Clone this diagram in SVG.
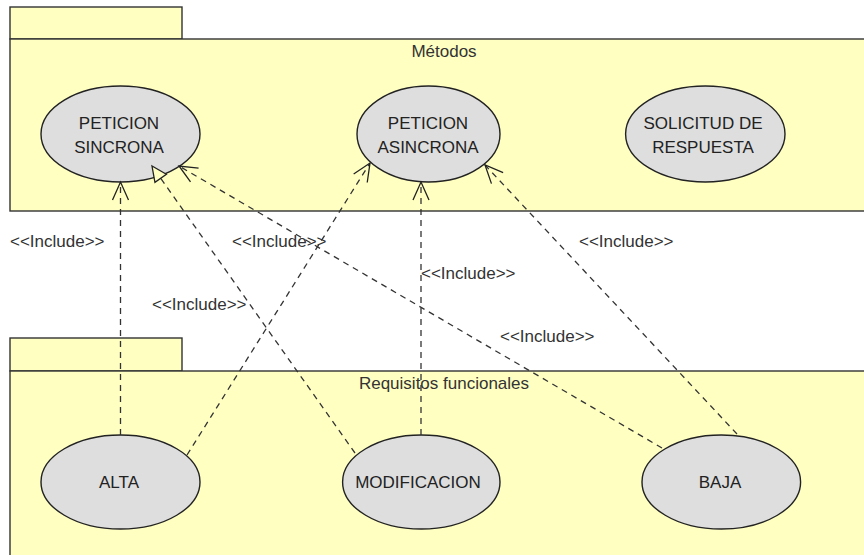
<svg xmlns="http://www.w3.org/2000/svg" width="864" height="555" viewBox="0 0 864 555">
<style>
.pkg{fill:#FFFFC2;stroke:#333;stroke-width:1.4}
.uc{fill:#DEDEDE;stroke:#222;stroke-width:1.4}
.t{font-family:"Liberation Sans",Arial,sans-serif;font-size:17px;fill:#222}
.lbl{font-family:"Liberation Sans",Arial,sans-serif;font-size:17px;fill:#333}
.pt{font-family:"Liberation Sans",Arial,sans-serif;font-size:17px;fill:#333;text-anchor:middle}
.c{fill:none;stroke:#333;stroke-width:1.3;stroke-dasharray:6 5}
</style>
<defs>
<marker id="open" markerUnits="userSpaceOnUse" orient="auto" overflow="visible" refX="0" refY="0" markerWidth="20" markerHeight="20">
<path d="M-18,-8 L0,0 L-18,8" fill="none" stroke="#222" stroke-width="1.3"/>
</marker>
<marker id="tri" markerUnits="userSpaceOnUse" orient="auto" overflow="visible" refX="0" refY="0" markerWidth="20" markerHeight="20">
<path d="M-15,-7 L0,0 L-15,7 Z" fill="#FFFFC2" stroke="#222" stroke-width="1.3"/>
</marker>
</defs>
<rect width="864" height="555" fill="#fff"/>
<g id="pkg-metodos">
<rect class="pkg" x="10" y="7" width="172" height="32"/>
<rect class="pkg" x="10" y="39" width="870" height="172"/>
<text class="pt" x="444" y="57">Métodos</text>
</g>
<g id="pkg-requisitos">
<rect class="pkg" x="10" y="338" width="172" height="33"/>
<rect class="pkg" x="10" y="371" width="870" height="200"/>
<text class="pt" x="444" y="389">Requisitos funcionales</text>
</g>
<g id="uc-peticion-sincrona">
<ellipse class="uc" cx="120.5" cy="134" rx="79.5" ry="48"/>
<text class="t" text-anchor="middle" x="119" y="129">PETICION</text>
<text class="t" text-anchor="middle" x="119" y="153">SINCRONA</text>
</g>
<g id="uc-peticion-asincrona">
<ellipse class="uc" cx="428.5" cy="134" rx="71.5" ry="48"/>
<text class="t" text-anchor="middle" x="428" y="129">PETICION</text>
<text class="t" text-anchor="middle" x="428" y="153">ASINCRONA</text>
</g>
<g id="uc-solicitud">
<ellipse class="uc" cx="705.3" cy="134" rx="79.7" ry="48"/>
<text class="t" text-anchor="middle" x="703" y="129">SOLICITUD DE</text>
<text class="t" text-anchor="middle" x="703" y="153">RESPUESTA</text>
</g>
<g id="uc-alta">
<ellipse class="uc" cx="120.5" cy="482" rx="79.5" ry="47"/>
<text class="t" text-anchor="middle" x="119" y="488">ALTA</text>
</g>
<g id="uc-modificacion">
<ellipse class="uc" cx="421.3" cy="482" rx="78.7" ry="47"/>
<text class="t" text-anchor="middle" x="418" y="488">MODIFICACION</text>
</g>
<g id="uc-baja">
<ellipse class="uc" cx="721.3" cy="482" rx="79.3" ry="47"/>
<text class="t" text-anchor="middle" x="720" y="488">BAJA</text>
</g>
<g id="connectors">
<line class="c" x1="120.5" y1="435" x2="120.5" y2="182" marker-end="url(#open)"/>
<line class="c" x1="187" y1="455" x2="370" y2="163" marker-end="url(#open)"/>
<line class="c" x1="355" y1="453" x2="152" y2="166" marker-end="url(#tri)"/>
<line class="c" x1="421" y1="435" x2="421" y2="182" marker-end="url(#open)"/>
<line class="c" x1="737" y1="434" x2="485" y2="165" marker-end="url(#open)"/>
<line class="c" x1="662" y1="448" x2="179" y2="166" marker-end="url(#open)"/>
<text class="lbl" x="10" y="247">&lt;&lt;Include&gt;&gt;</text>
<text class="lbl" x="232" y="247">&lt;&lt;Include&gt;&gt;</text>
<text class="lbl" x="152" y="310">&lt;&lt;Include&gt;&gt;</text>
<text class="lbl" x="421" y="279">&lt;&lt;Include&gt;&gt;</text>
<text class="lbl" x="579" y="247">&lt;&lt;Include&gt;&gt;</text>
<text class="lbl" x="500" y="342">&lt;&lt;Include&gt;&gt;</text>
</g>
</svg>
